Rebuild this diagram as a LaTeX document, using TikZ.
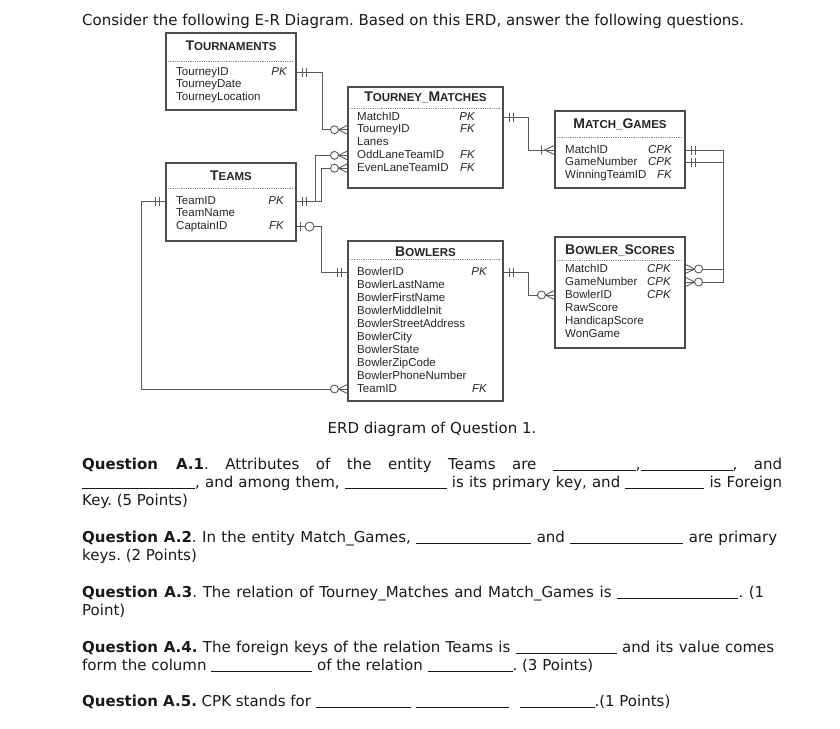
\documentclass[tikz,border=0pt]{standalone}
\usepackage{fontspec}
\setmainfont{DejaVu Sans}
\newfontfamily\erfont{Liberation Sans}
\frenchspacing

\newcommand\hi[1]{{\fontsize{14}{14}\selectfont#1}}
\newcommand\blank[1]{\rule[-1.5pt]{#1pt}{0.8pt}}

\tikzset{
  entity/.style={draw=black!70, line width=1.1pt, inner sep=0pt},
  title/.style={font=\erfont\bfseries\fontsize{11.5}{12}\selectfont, text=black!85, inner sep=0pt, text height=10pt, text depth=0pt},
  attr/.style={font=\erfont\fontsize{11.5}{12}\selectfont, text=black!85, inner sep=0pt, text height=8.5pt, text depth=2.5pt, anchor=west},
  key/.style={attr, font=\erfont\itshape\fontsize{11.5}{12}\selectfont, anchor=east},
  sep/.style={draw=black!45, line width=0.6pt, dash pattern=on 0.7pt off 1.1pt},
  rel/.style={draw=black!65, line width=0.9pt},
  txt/.style={font=\fontsize{15}{18}\selectfont, text=black!90, inner sep=0pt, anchor=base west},
  mand/.pic={\draw[rel] (6,-4.5) -- (6,4.5) (10,-4.5) -- (10,4.5);},
  zmany/.pic={\draw[rel] (0,-4.5) -- (9,0) -- (0,4.5); \draw[rel, fill=white] (13,0) circle (4);},
  omany/.pic={\draw[rel] (0,-4.5) -- (10,0) -- (0,4.5) (13,-4.5) -- (13,4.5);},
  zone/.pic={\draw[rel] (4,-4.5) -- (4,4.5); \draw[rel, fill=white] (13,0) circle (4.5);}
}

\begin{document}
\begin{tikzpicture}[x=1pt, y=-1pt]
\path[use as bounding box, fill=white] (0,0) rectangle (840,728);

\node[entity, minimum width=130, minimum height=77] (tn) at (231,71.5) {};
\node[title] (tnt) at (231,45) {\hi{T}OURNAMENTS};
\draw[sep] (168,61) -- (294,61);
\foreach \a [count=\i] in {TourneyID,TourneyDate,TourneyLocation}
  \node[attr] (tn\i) at (176,59.2+12.8*\i) {\a};
\node[key] (tnk1) at (287,72) {PK};

\node[entity, minimum width=130, minimum height=78] (te) at (231,202) {};
\node[title] (tet) at (231,175) {\hi{T}EAMS};
\draw[sep] (168,188) -- (294,188);
\foreach \a [count=\i] in {TeamID,TeamName,CaptainID}
  \node[attr] (te\i) at (176,188.2+12.8*\i) {\a};
\node[key] (tek1) at (284,201) {PK};
\node[key] (tek3) at (284,226.6) {FK};

\node[entity, minimum width=155, minimum height=101] (tm) at (425.5,137.5) {};
\node[title] (tmt) at (425.5,96) {\hi{T}OURNEY\_\hi{M}ATCHES};
\draw[sep] (350,108) -- (501,108);
\foreach \a [count=\i] in {MatchID,TourneyID,Lanes,OddLaneTeamID,EvenLaneTeamID}
  \node[attr] (tm\i) at (357,104.2+12.8*\i) {\a};
\node[key] (tmk1) at (475,117) {PK};
\node[key] (tmk2) at (475,129.8) {FK};
\node[key] (tmk4) at (475,155.4) {FK};
\node[key] (tmk5) at (475,168.2) {FK};

\node[entity, minimum width=130, minimum height=77] (mg) at (620,149.5) {};
\node[title] (mgt) at (620,123) {\hi{M}ATCH\_\hi{G}AMES};
\draw[sep] (557,137) -- (683,137);
\foreach \a [count=\i] in {MatchID,GameNumber,WinningTeamID}
  \node[attr] (mg\i) at (565,137.2+12.8*\i) {\a};
\node[key] (mgk1) at (672,150) {CPK};
\node[key] (mgk2) at (672,162.8) {CPK};
\node[key] (mgk3) at (672,175.6) {FK};

\node[entity, minimum width=155, minimum height=160] (bo) at (425.5,321) {};
\node[title] (bot) at (425.5,251) {\hi{B}OWLERS};
\draw[sep] (350,259) -- (501,259);
\foreach \a [count=\i] in {BowlerID,BowlerLastName,BowlerFirstName,BowlerMiddleInit,BowlerStreetAddress,BowlerCity,BowlerState,BowlerZipCode,BowlerPhoneNumber,TeamID}
  \node[attr] (bo\i) at (357,259+13*\i) {\a};
\node[key] (bok1) at (487,272) {PK};
\node[key] (bok10) at (487,389) {FK};

\node[entity, minimum width=130, minimum height=111] (bs) at (620,292.5) {};
\node[title] (bst) at (620,249) {\hi{B}OWLER\_\hi{S}CORES};
\draw[sep] (557,260) -- (683,260);
\foreach \a [count=\i] in {MatchID,GameNumber,BowlerID,RawScore,HandicapScore,WonGame}
  \node[attr] (bs\i) at (565,256+13*\i) {\a};
\foreach \i in {1,2,3}
  \node[key] (bsk\i) at (671,256+13*\i) {CPK};

\draw[rel] (tn1 -| tn.east) -- ++(26,0) |- (tm2 -| tm.west);
\draw[rel] (te1 -| te.east) -- ++(19,0) |- (tm4 -| tm.west);
\draw[rel] (te1 -| te.east) -- ++(25,0) |- (tm5 -| tm.west);
\draw[rel] (te1 -| te.west) -- ++(-24,0) |- (bo10 -| bo.west);
\draw[rel] (te3 -| te.east) -- ++(25,0) |- (bo1 -| bo.west);
\draw[rel] (bo1 -| bo.east) -- ++(25,0) |- (bs3 -| bs.west);
\draw[rel] (tm1 -| tm.east) -- ++(25,0) |- (mg1 -| mg.west);
\draw[rel] (mg1 -| mg.east) -- ++(38,0) |- (bs1 -| bs.east);
\draw[rel] (mg2 -| mg.east) -- ++(38,0) |- (bs2 -| bs.east);

\foreach \n/\s in {tn1/tn.east,te1/te.east,bo1/bo.east,tm1/tm.east,mg1/mg.east,mg2/mg.east}
  \pic at (\n -| \s) {mand};
\foreach \n/\s in {te1/te.west,bo1/bo.west}
  \pic[rotate=180] at (\n -| \s) {mand};
\foreach \n/\s in {tm2/tm.west,tm4/tm.west,tm5/tm.west,bo10/bo.west,bs3/bs.west}
  \pic[rotate=180] at (\n -| \s) {zmany};
\foreach \n/\s in {bs1/bs.east,bs2/bs.east}
  \pic at (\n -| \s) {zmany};
\pic[rotate=180] at (mg1 -| mg.west) {omany};
\pic at (te3 -| te.east) {zone};

\node[txt] (intro) at (82,25) {Consider the following E-R Diagram. Based on this ERD, answer the following questions.};
\node[txt, anchor=base] (cap) at (432,433) {ERD diagram of Question 1.};

\node[txt] (q1a) at (82,469) {\makebox[700pt][s]{\textbf{Question A.1}. Attributes of the entity Teams are \blank{83},\blank{92}, and}};
\node[txt] (q1b) at (82,487) {\makebox[700pt][s]{\blank{113}, and among them, \blank{102} is its primary key, and \blank{79} is Foreign}};
\node[txt] (q1c) at (82,505) {Key. (5 Points)};
\node[txt] (q2a) at (82,542) {\makebox[695pt][s]{\textbf{Question A.2}. In the entity Match\_Games, \blank{115} and \blank{113} are primary}};
\node[txt] (q2b) at (82,560) {keys. (2 Points)};
\node[txt] (q3a) at (82,597) {\makebox[682pt][s]{\textbf{Question A.3}. The relation of Tourney\_Matches and Match\_Games is \blank{121}. (1}};
\node[txt] (q3b) at (82,615) {Point)};
\node[txt] (q4a) at (82,652) {\makebox[692pt][s]{\textbf{Question A.4.} The foreign keys of the relation Teams is \blank{101} and its value comes}};
\node[txt] (q4b) at (82,670) {form the column \blank{101} of the relation \blank{85}. (3 Points)};
\node[txt] (q5) at (82,706) {\textbf{Question A.5.} CPK stands for \blank{95} \blank{93}\hspace{11pt}\blank{75}.(1 Points)};
\end{tikzpicture}
\end{document}
